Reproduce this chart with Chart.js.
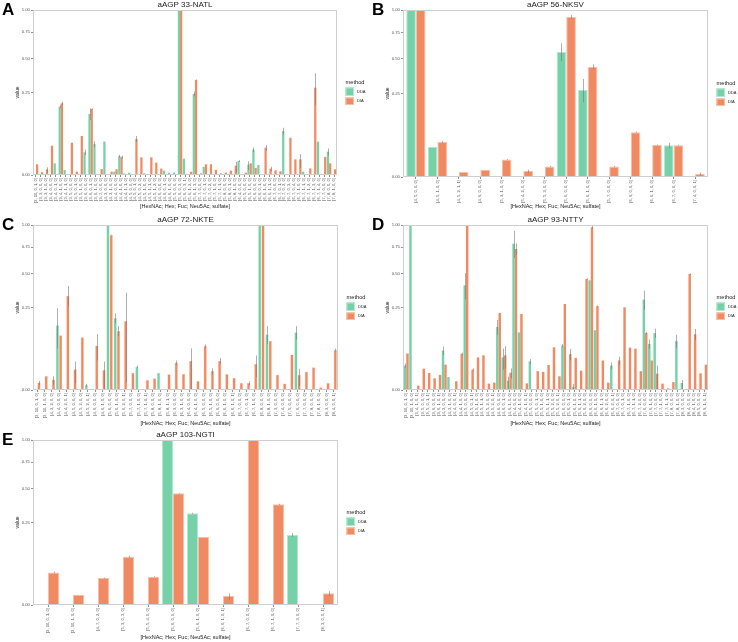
<!DOCTYPE html>
<html>
<head>
<meta charset="utf-8">
<script src="https://cdn.jsdelivr.net/npm/chart.js@4"></script>
<style>
  body { margin: 0; background: #fff; width: 738px; height: 642px; position: relative; overflow: hidden; }
  canvas { position: absolute; }
</style>
</head>
<body>
<canvas id="pA" width="370" height="214" style="left:0;top:0"></canvas>
<canvas id="pB" width="368" height="214" style="left:370px;top:0"></canvas>
<canvas id="pC" width="370" height="214" style="left:0;top:215px"></canvas>
<canvas id="pD" width="368" height="214" style="left:370px;top:215px"></canvas>
<canvas id="pE" width="370" height="212" style="left:0;top:430px"></canvas>
<script>
// ---- data ----
const yTickValues = [0, 0.25, 0.5, 0.75, 1];
const xTitle = '[HexNAc; Hex; Fuc; Neu5Ac; sulfate]';

// A: aAGP 33-NATL
const labelsA = [
  '[3, 10, 0, 1, 0]', '[3, 3, 0, 0, 0]', '[3, 3, 1, 0, 0]', '[3, 4, 0, 0, 0]', '[3, 4, 0, 1, 0]',
  '[3, 4, 1, 0, 0]', '[3, 4, 1, 1, 0]', '[3, 5, 0, 0, 0]', '[3, 5, 0, 1, 0]', '[3, 5, 1, 0, 0]',
  '[3, 6, 0, 0, 0]', '[3, 6, 0, 1, 0]', '[3, 6, 1, 0, 0]', '[3, 7, 0, 0, 0]', '[4, 3, 0, 0, 0]',
  '[4, 3, 1, 0, 0]', '[4, 4, 0, 0, 0]', '[4, 4, 1, 0, 0]', '[4, 4, 1, 1, 0]', '[4, 5, 0, 0, 0]',
  '[4, 5, 0, 1, 0]', '[4, 5, 0, 2, 0]', '[4, 5, 1, 0, 0]', '[4, 5, 1, 1, 0]', '[4, 5, 1, 2, 0]',
  '[4, 6, 0, 0, 0]', '[4, 6, 0, 1, 0]', '[4, 6, 1, 0, 0]', '[5, 5, 0, 0, 0]', '[5, 6, 0, 3, 0]',
  '[5, 6, 0, 3, 1]', '[5, 6, 1, 2, 0]', '[5, 6, 1, 3, 0]', '[5, 7, 0, 0, 0]', '[5, 7, 0, 1, 0]',
  '[5, 7, 0, 2, 0]', '[5, 7, 1, 0, 0]', '[5, 7, 1, 1, 0]', '[5, 8, 0, 0, 0]', '[5, 8, 0, 1, 0]',
  '[5, 8, 1, 0, 0]', '[6, 4, 0, 0, 0]', '[6, 5, 0, 0, 0]', '[6, 5, 1, 0, 0]', '[6, 6, 0, 0, 0]',
  '[6, 6, 0, 1, 0]', '[6, 6, 1, 0, 0]', '[6, 6, 1, 1, 0]', '[6, 7, 0, 0, 0]', '[6, 7, 0, 1, 0]',
  '[6, 7, 0, 2, 0]', '[6, 7, 0, 3, 0]', '[6, 7, 0, 4, 0]', '[6, 7, 1, 0, 0]', '[6, 7, 1, 1, 0]',
  '[6, 7, 1, 2, 0]', '[6, 7, 1, 3, 0]', '[6, 7, 1, 4, 0]', '[7, 7, 0, 0, 0]', '[7, 8, 0, 0, 0]',
  '[7, 8, 1, 0, 0]'
];
const ddaA = [
  null, null, null, null, 0.005, 0.1715, 0.0009, null, null, null,
  0.019, 0.137, 0.035, null, 0.041, null, 0.0004, 0.013, 0.0001, 0.0002,
  null, null, 0.0001, null, null, null, 0.0007, 0.0002, 0.0002, 1,
  0.0098, null, 0.241, null, 0.0024, null, null, null, null, null,
  null, 0.0072, null, 0.0039, 0.0236, 0.0037, null, null, null, null,
  0.071, null, null, null, 0.0004, null, null, 0.041, null, 0.02,
  null
];
const diaA = [
  0.0042, 0.0003, 0.0012, 0.0316, null, 0.189, null, 0.0384, 0.0004, 0.056,
  null, 0.16, null, 0.0013, null, 0.0004, 0.0012, 0.012, null, null,
  0.048, 0.0115, null, 0.0115, 0.0056, 0.0015, null, null, null, 1,
  null, 0.0004, 0.331, 0.0001, 0.0042, 0.0042, 0.001, 0.0001, 0.0002, 0.0007,
  0.0032, null, 0.0002, 0.005, 0.0018, null, 0.0274, 0.0015, 0.0008, 0.0005,
  null, 0.051, 0.009, 0.009, null, 0.0016, 0.28, null, 0.012, 0.005,
  0.0012
];
const ddaErrA = [
  0, 0, 0, 0, 0, 0.009, 0, 0, 0, 0,
  0.0046, 0.026, 0.0066, 0, 0, 0, 0, 0.002, 0, 0,
  0, 0, 0, 0, 0, 0, 0, 0, 0, 0,
  0, 0, 0.014, 0, 0, 0, 0, 0, 0, 0,
  0, 0.001, 0, 0.003, 0.0045, 0, 0, 0, 0, 0,
  0.011, 0, 0, 0, 0, 0, 0, 0, 0, 0.006,
  0
];
const diaErrA = [
  0, 0, 0.001, 0, 0, 0.008, 0, 0, 0, 0,
  0, 0.003, 0, 0, 0, 0, 0, 0.002, 0, 0,
  0.008, 0, 0, 0, 0, 0, 0, 0, 0, 0,
  0, 0, 0.004, 0, 0, 0, 0, 0, 0, 0,
  0.003, 0, 0, 0, 0, 0, 0.006, 0.001, 0, 0,
  0, 0, 0, 0.007, 0, 0, 0.1, 0, 0, 0,
  0
];

// B: aAGP 56-NKSV
const labelsB = [
  '[4, 5, 0, 0, 0]', '[4, 5, 1, 0, 0]', '[4, 5, 2, 1, 1]', '[4, 6, 0, 0, 0]', '[5, 3, 1, 0, 0]',
  '[5, 4, 2, 0, 0]', '[5, 5, 3, 0, 0]', '[5, 6, 0, 0, 0]', '[5, 6, 1, 0, 0]', '[5, 7, 0, 0, 0]',
  '[6, 6, 0, 0, 0]', '[6, 6, 1, 0, 0]', '[6, 7, 0, 0, 0]', '[7, 4, 0, 0, 1]'
];
const ddaB = [1, 0.033, null, null, null, null, null, 0.561, 0.272, null, null, null, 0.036, null];
const diaB = [1, 0.044, 0.0009, 0.0019, 0.011, 0.0013, 0.004, 0.918, 0.435, 0.004, 0.072, 0.037, 0.036, 0.0004];
const ddaErrB = [0, 0, 0, 0, 0, 0, 0, 0.08, 0.073, 0, 0, 0, 0.006, 0];
const diaErrB = [0, 0.002, 0, 0, 0.0005, 0.0006, 0.0005, 0.022, 0.02, 0.0005, 0.002, 0.001, 0.001, 0.0003];

// C: aAGP 72-NKTE
const labelsC = [
  '[3, 10, 0, 1, 0]', '[3, 10, 1, 0, 0]', '[4, 3, 2, 0, 0]', '[4, 4, 0, 0, 0]', '[4, 4, 2, 0, 1]',
  '[4, 5, 0, 0, 0]', '[4, 5, 2, 0, 0]', '[4, 5, 2, 0, 1]', '[4, 6, 0, 0, 0]', '[4, 6, 1, 0, 0]',
  '[5, 6, 0, 0, 0]', '[5, 6, 1, 0, 0]', '[5, 6, 2, 0, 1]', '[5, 7, 0, 0, 0]', '[5, 7, 1, 0, 0]',
  '[5, 7, 1, 0, 1]', '[5, 8, 0, 0, 0]', '[5, 8, 1, 0, 0]', '[5, 8, 1, 1, 0]', '[6, 3, 0, 0, 0]',
  '[6, 3, 1, 0, 0]', '[6, 4, 0, 0, 0]', '[6, 4, 1, 0, 0]', '[6, 5, 0, 0, 0]', '[6, 5, 1, 0, 0]',
  '[6, 6, 0, 0, 0]', '[6, 6, 1, 0, 0]', '[6, 6, 1, 0, 1]', '[6, 7, 0, 0, 0]', '[6, 7, 0, 1, 0]',
  '[6, 7, 1, 0, 0]', '[6, 8, 0, 0, 0]', '[6, 8, 1, 0, 0]', '[7, 3, 0, 0, 0]', '[7, 4, 0, 0, 0]',
  '[7, 5, 0, 0, 0]', '[7, 6, 0, 0, 0]', '[7, 7, 0, 0, 0]', '[7, 8, 0, 0, 0]', '[7, 8, 1, 0, 0]',
  '[8, 3, 0, 0, 0]', '[8, 4, 0, 0, 1]'
];
const ddaC = [
  null, null, null, 0.154, null, null, null, 0.0009, null, null,
  1, 0.19, null, null, 0.02, null, null, 0.011, null, null,
  null, null, null, null, null, null, null, null, null, null,
  null, 1, 0.114, null, null, null, 0.122, null, null, null,
  null, null
];
const diaC = [
  0.002, 0.0072, 0.004, 0.11, 0.327, 0.0157, 0.102, null, 0.073, 0.0147,
  0.882, 0.128, 0.175, 0.011, null, 0.0037, 0.005, null, 0.009, 0.028,
  0.0094, 0.0316, 0.003, 0.071, 0.0133, 0.0316, 0.0094, 0.0056, 0.0018, 0.0018,
  0.025, 1, 0.089, 0.0086, 0.0016, 0.046, 0.0086, 0.0123, 0.019, 0.0003,
  0.0018, 0.059
];
const ddaErrC = [
  0, 0, 0, 0.091, 0, 0, 0, 0.0005, 0, 0,
  0, 0.026, 0, 0, 0.002, 0, 0, 0, 0, 0,
  0, 0, 0, 0, 0, 0, 0, 0, 0, 0,
  0, 0, 0.036, 0, 0, 0, 0.028, 0, 0, 0,
  0, 0
];
const diaErrC = [
  0.001, 0, 0.003, 0, 0.07, 0.014, 0, 0, 0.041, 0.015,
  0.005, 0.022, 0.173, 0, 0, 0, 0, 0, 0, 0.004,
  0, 0.032, 0, 0.005, 0.004, 0.006, 0, 0, 0, 0.001,
  0.019, 0, 0, 0, 0, 0, 0.008, 0, 0, 0,
  0, 0.004
];

// D: aAGP 93-NTTY
const labelsD = [
  '[3, 10, 0, 1, 0]', '[3, 10, 1, 0, 0]', '[3, 4, 1, 0, 1]', '[3, 5, 0, 0, 0]', '[3, 5, 0, 1, 1]',
  '[3, 6, 0, 0, 0]', '[3, 6, 1, 0, 1]', '[4, 3, 0, 0, 0]', '[4, 3, 1, 0, 0]', '[4, 4, 0, 0, 1]',
  '[4, 4, 1, 0, 0]', '[4, 5, 0, 0, 0]', '[4, 5, 0, 1, 1]', '[4, 5, 1, 0, 0]', '[4, 5, 1, 1, 0]',
  '[4, 5, 2, 0, 0]', '[4, 5, 2, 0, 1]', '[4, 6, 0, 0, 0]', '[4, 6, 0, 1, 0]', '[4, 6, 1, 0, 0]',
  '[5, 4, 0, 0, 0]', '[5, 4, 1, 0, 0]', '[5, 4, 1, 0, 1]', '[5, 5, 0, 0, 0]', '[5, 5, 0, 1, 0]',
  '[5, 5, 1, 0, 0]', '[5, 5, 1, 1, 0]', '[5, 5, 2, 0, 0]', '[5, 5, 2, 0, 1]', '[5, 6, 0, 0, 0]',
  '[5, 6, 0, 1, 0]', '[5, 6, 1, 0, 0]', '[5, 6, 1, 1, 0]', '[5, 6, 2, 0, 0]', '[6, 6, 0, 0, 0]',
  '[6, 6, 1, 0, 0]', '[6, 6, 1, 1, 0]', '[6, 6, 2, 0, 0]', '[6, 6, 2, 0, 1]', '[6, 7, 0, 0, 0]',
  '[6, 7, 0, 1, 0]', '[6, 7, 1, 0, 0]', '[6, 7, 1, 1, 0]', '[6, 7, 2, 0, 0]', '[7, 6, 0, 0, 0]',
  '[7, 6, 1, 0, 0]', '[7, 7, 0, 0, 0]', '[7, 7, 1, 0, 0]', '[7, 7, 1, 1, 0]', '[7, 8, 0, 0, 0]',
  '[7, 8, 1, 0, 0]', '[8, 3, 0, 0, 0]', '[8, 4, 0, 0, 0]', '[8, 4, 1, 0, 0]', '[8, 5, 0, 0, 0]',
  '[8, 9, 1, 0, 1]'
];
const ddaD = [
  0.022, 1, null, null, null, null, null, 0.057, 0.0062, null,
  null, 0.402, null, null, null, null, null, 0.146, 0.039, 0.0032,
  0.786, 0.122, null, 0.03, null, null, null, null, null, 0.072,
  null, 0.0003, null, null, 0.442, 0.131, null, null, 0.022, null,
  null, null, null, null, 0.3, 0.078, 0.119, null, null, null,
  0.088, 0.0018, null, null, null, null
];
const diaD = [
  0.049, null, 0.0007, 0.0167, 0.0106, 0.005, 0.0083, 0.0236, null, 0.0028,
  0.048, 1, 0.0152, 0.039, 0.044, 0.0015, 0.002, 0.218, 0.044, 0.011,
  0.73, 0.212, 0.0016, null, 0.013, 0.012, 0.023, 0.067, 0.0069, 0.272,
  0.047, 0.038, 0.0137, 0.453, 0.972, 0.258, 0.032, 0.002, null, 0.032,
  0.251, 0.066, 0.063, 0.013, 0.119, 0.032, 0.0098, 0.0015, 0.0001, 0.0023,
  null, null, 0.494, 0.114, 0.0102, 0.0236
];
const ddaErrD = [
  0.004, 0, 0, 0, 0, 0, 0, 0.012, 0, 0,
  0, 0.1, 0, 0, 0, 0, 0, 0.034, 0.024, 0.0033,
  0.144, 0, 0, 0.005, 0, 0, 0, 0, 0, 0.005,
  0, 0.001, 0, 0, 0, 0, 0, 0, 0.006, 0,
  0, 0, 0, 0, 0.062, 0.016, 0.019, 0, 0, 0,
  0.024, 0.002, 0, 0, 0, 0
];
const diaErrD = [
  0, 0, 0, 0, 0, 0, 0, 0, 0, 0,
  0.003, 0, 0.002, 0, 0, 0, 0, 0, 0.027, 0.006,
  0.06, 0, 0, 0, 0, 0, 0, 0, 0, 0,
  0.015, 0, 0, 0.005, 0.02, 0.004, 0, 0, 0, 0.009,
  0, 0, 0, 0, 0.005, 0, 0.012, 0, 0, 0,
  0, 0, 0.006, 0.023, 0, 0
];

// E: aAGP 103-NGTI
const labelsE = [
  '[3, 10, 0, 1, 0]', '[3, 10, 1, 0, 0]', '[4, 7, 0, 2, 0]', '[5, 3, 0, 3, 0]', '[5, 5, 4, 0, 0]',
  '[5, 6, 0, 0, 0]', '[5, 6, 1, 0, 0]', '[6, 6, 1, 0, 1]', '[6, 7, 0, 0, 0]', '[6, 7, 1, 0, 0]',
  '[7, 7, 3, 0, 0]', '[8, 3, 0, 0, 1]'
];
const ddaE = [null, null, null, null, null, 1, 0.309, null, null, null, 0.18, null];
const diaE = [0.039, 0.0039, 0.0268, 0.0858, 0.0295, 0.458, 0.1715, 0.003, 1, 0.372, null, 0.005];
const ddaErrE = [0, 0, 0, 0, 0, 0, 0.004, 0, 0, 0, 0.01, 0];
const diaErrE = [0.002, 0, 0.001, 0.004, 0.001, 0.003, 0, 0.002, 0, 0.004, 0, 0.002];

// ---- styling ----
const FONT = 'Liberation Sans, Arial, Helvetica, sans-serif';
const DDA_FILL = '#76D1A9', DDA_EDGE = '#B4E7CF';
const DIA_FILL = '#EF8A62', DIA_EDGE = '#F7BFA8';
Chart.defaults.font.family = FONT;

// draws title, panel border, error bars, legend and panel letter
const panelPlugin = {
  id: 'panel',
  afterDatasetsDraw(chart) {
    const ctx = chart.ctx;
    const y = chart.scales.y;
    ctx.save();
    ctx.strokeStyle = 'rgba(120,120,120,0.6)';
    ctx.lineWidth = 1;
    chart.data.datasets.forEach((ds, di) => {
      const meta = chart.getDatasetMeta(di);
      ds.raw.forEach((v, i) => {
        const e = ds.err[i];
        if (v == null || !e) return;
        const el = meta.data[i];
        const top = y.getPixelForValue(Math.sqrt(Math.min(1.02, v + e)));
        const bot = y.getPixelForValue(Math.sqrt(Math.max(0, v - e)));
        const x = Math.round(el.x) + 0.5;
        ctx.beginPath();
        ctx.moveTo(x, bot);
        ctx.lineTo(x, top);
        ctx.stroke();
      });
    });
    ctx.restore();
  },
  afterDraw(chart, args, opts) {
    const ctx = chart.ctx;
    const a = chart.chartArea;
    ctx.save();
    // panel border
    ctx.strokeStyle = '#cfcfcf';
    ctx.lineWidth = 1;
    ctx.strokeRect(Math.round(a.left) + 0.5, Math.round(a.top) + 0.5,
      Math.round(a.right - a.left) - 1, Math.round(a.bottom - a.top) - 1);
    // title
    ctx.fillStyle = '#1a1a1a';
    ctx.font = '8px ' + FONT;
    ctx.textAlign = 'center';
    ctx.textBaseline = 'middle';
    ctx.fillText(opts.title, (a.left + a.right) / 2, a.top - 5.5);
    // legend
    const lx = a.right + 8.5;
    const cy = (a.top + a.bottom) / 2;
    ctx.textAlign = 'left';
    ctx.font = '5.7px ' + FONT;
    ctx.fillText('method', lx, cy - 10.5);
    ctx.fillStyle = DDA_FILL;
    ctx.fillRect(lx, cy - 5, 8.5, 8.5);
    ctx.strokeStyle = DDA_EDGE;
    ctx.strokeRect(lx + 0.5, cy - 4.5, 7.5, 7.5);
    ctx.fillStyle = DIA_FILL;
    ctx.fillRect(lx, cy + 5, 8.5, 7.5);
    ctx.strokeStyle = DIA_EDGE;
    ctx.strokeRect(lx + 0.5, cy + 5.5, 7.5, 6.5);
    ctx.fillStyle = '#1a1a1a';
    ctx.font = '4px ' + FONT;
    ctx.fillText('DDA', lx + 11.5, cy - 0.8);
    ctx.fillText('DIA', lx + 11.5, cy + 8.8);
    // panel letter
    ctx.font = 'bold 17px ' + FONT;
    ctx.textBaseline = 'alphabetic';
    ctx.fillStyle = '#000';
    ctx.fillText(opts.letter, 2, 14.5);
    ctx.restore();
  }
};

function makePanel(id, letter, title, labels, dda, dia, ddaErr, diaErr, cfg) {
  const sq = arr => arr.map(v => v == null ? null : Math.sqrt(v));
  return new Chart(document.getElementById(id), {
    type: 'bar',
    data: {
      labels: labels,
      datasets: [
        { label: 'DDA', data: sq(dda), raw: dda, err: ddaErr,
          backgroundColor: DDA_FILL, borderColor: DDA_EDGE, borderWidth: cfg.border },
        { label: 'DIA', data: sq(dia), raw: dia, err: diaErr,
          backgroundColor: DIA_FILL, borderColor: DIA_EDGE, borderWidth: cfg.border }
      ]
    },
    options: {
      responsive: false,
      animation: false,
      devicePixelRatio: 1,
      layout: { padding: { top: 10, right: cfg.right, left: 0, bottom: 0 } },
      datasets: { bar: { categoryPercentage: 0.9, barPercentage: 1 } },
      plugins: {
        legend: { display: false },
        tooltip: { enabled: false },
        panel: { letter: letter, title: title }
      },
      scales: {
        x: {
          offset: true,
          grid: { drawOnChartArea: false, offset: false, tickLength: 2, color: '#444', lineWidth: 0.6 },
          border: { display: false },
          ticks: { autoSkip: false, minRotation: 90, maxRotation: 90, padding: 1,
                   color: '#555', font: { size: 4.1 } },
          title: { display: true, text: xTitle, color: '#1a1a1a', font: { size: 5.5 },
                   padding: { top: 0, bottom: cfg.xTitlePad } },
          afterBuildTicks(s) {
            // ggplot-style discrete expansion: 0.6 of a category on each side
            s._startValue = -0.6;
            s._valueRange = s.ticks.length + 0.2;
          },
          afterFit(s) { s.height = cfg.xHeight; }
        },
        y: {
          min: 0,
          max: 1,
          grid: { drawOnChartArea: false, tickLength: 2, color: '#444', lineWidth: 0.6 },
          border: { display: false },
          ticks: { padding: 1, color: '#555', font: { size: 4.3 },
                   callback: v => (v * v).toFixed(2) },
          title: { display: true, text: 'value', color: '#1a1a1a', font: { size: 5 },
                   padding: { top: 15, bottom: 0 } },
          afterBuildTicks(s) { s.ticks = yTickValues.map(v => ({ value: Math.sqrt(v) })); },
          afterFit(s) { s.width = 33; }
        }
      }
    },
    plugins: [panelPlugin]
  });
}

makePanel('pA', 'A', 'aAGP 33-NATL', labelsA, ddaA, diaA, ddaErrA, diaErrA,
  { right: 33, xHeight: 39, xTitlePad: 4, border: 0 });
makePanel('pB', 'B', 'aAGP 56-NKSV', labelsB, ddaB, diaB, ddaErrB, diaErrB,
  { right: 30, xHeight: 37, xTitlePad: 4, border: 1 });
makePanel('pC', 'C', 'aAGP 72-NKTE', labelsC, ddaC, diaC, ddaErrC, diaErrC,
  { right: 32, xHeight: 39, xTitlePad: 2.5, border: 0.5 });
makePanel('pD', 'D', 'aAGP 93-NTTY', labelsD, ddaD, diaD, ddaErrD, diaErrD,
  { right: 30, xHeight: 39, xTitlePad: 2.5, border: 0 });
makePanel('pE', 'E', 'aAGP 103-NGTI', labelsE, ddaE, diaE, ddaErrE, diaErrE,
  { right: 32, xHeight: 37, xTitlePad: 1, border: 1 });
</script>
</body>
</html>
